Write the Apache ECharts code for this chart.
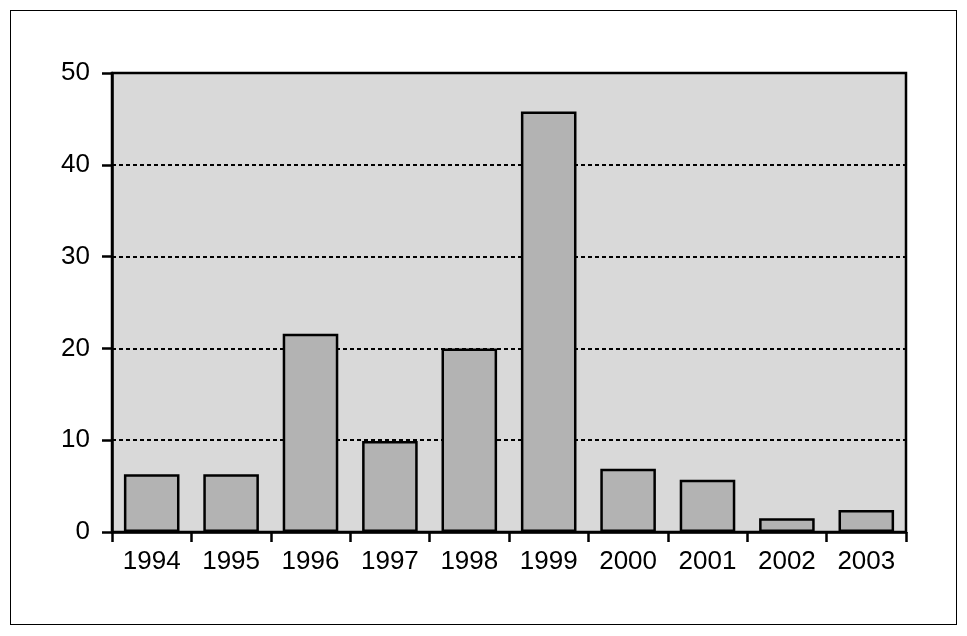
<!DOCTYPE html>
<html>
<head>
<meta charset="utf-8">
<script src="https://cdn.jsdelivr.net/npm/echarts@6/dist/echarts.min.js"></script>
<style>
  html, body { margin: 0; padding: 0; background: #fff; }
  #wrap { position: relative; width: 967px; height: 636px; }
  #frame { position: absolute; left: 10px; top: 10px; width: 945px; height: 613px; border: 1px solid #000; }
  #chart { position: absolute; left: 0; top: 0; width: 967px; height: 636px; }
</style>
</head>
<body>
<div id="wrap">
  <div id="frame"></div>
  <div id="chart"></div>
</div>
<script>
// years on the x axis
const years = ['1994', '1995', '1996', '1997', '1998', '1999', '2000', '2001', '2002', '2003']
// bar heights
const counts = [6.3, 6.3, 21.6, 9.9, 20.0, 45.8, 6.9, 5.7, 1.5, 2.4]
// y axis ticks
const yMin = 0
const yMax = 50
const yStep = 10

const font = '"Liberation Sans", Arial, Helvetica, sans-serif'

const chart = echarts.init(document.getElementById('chart'), null, { renderer: 'canvas' })

chart.setOption({
  animation: false,
  grid: {
    left: 112,
    top: 73,
    width: 794,
    height: 459,
    show: true,
    backgroundColor: '#d9d9d9',
    borderColor: '#000',
    borderWidth: 2.5
  },
  xAxis: {
    type: 'category',
    data: years,
    boundaryGap: true,
    axisLine: { show: true, lineStyle: { color: '#000', width: 2.5 } },
    axisTick: { show: true, alignWithLabel: false, length: 10, lineStyle: { color: '#000', width: 2.5 } },
    axisLabel: { color: '#000', fontSize: 26, fontFamily: font, margin: 17 },
    splitLine: { show: false }
  },
  yAxis: {
    type: 'value',
    min: yMin,
    max: yMax,
    interval: yStep,
    axisLine: { show: true, lineStyle: { color: '#000', width: 2.5 } },
    axisTick: { show: true, length: 10, lineStyle: { color: '#000', width: 2.5 } },
    axisLabel: { color: '#000', fontSize: 26, fontFamily: font, margin: 22 },
    splitLine: { show: true, lineStyle: { color: '#000', width: 2, type: [4, 3] } }
  },
  series: [{
    type: 'bar',
    data: counts,
    barWidth: '70%',
    itemStyle: { color: '#b3b3b3', borderColor: '#000', borderWidth: 2.5 },
    emphasis: { disabled: true }
  }]
})
</script>
</body>
</html>
